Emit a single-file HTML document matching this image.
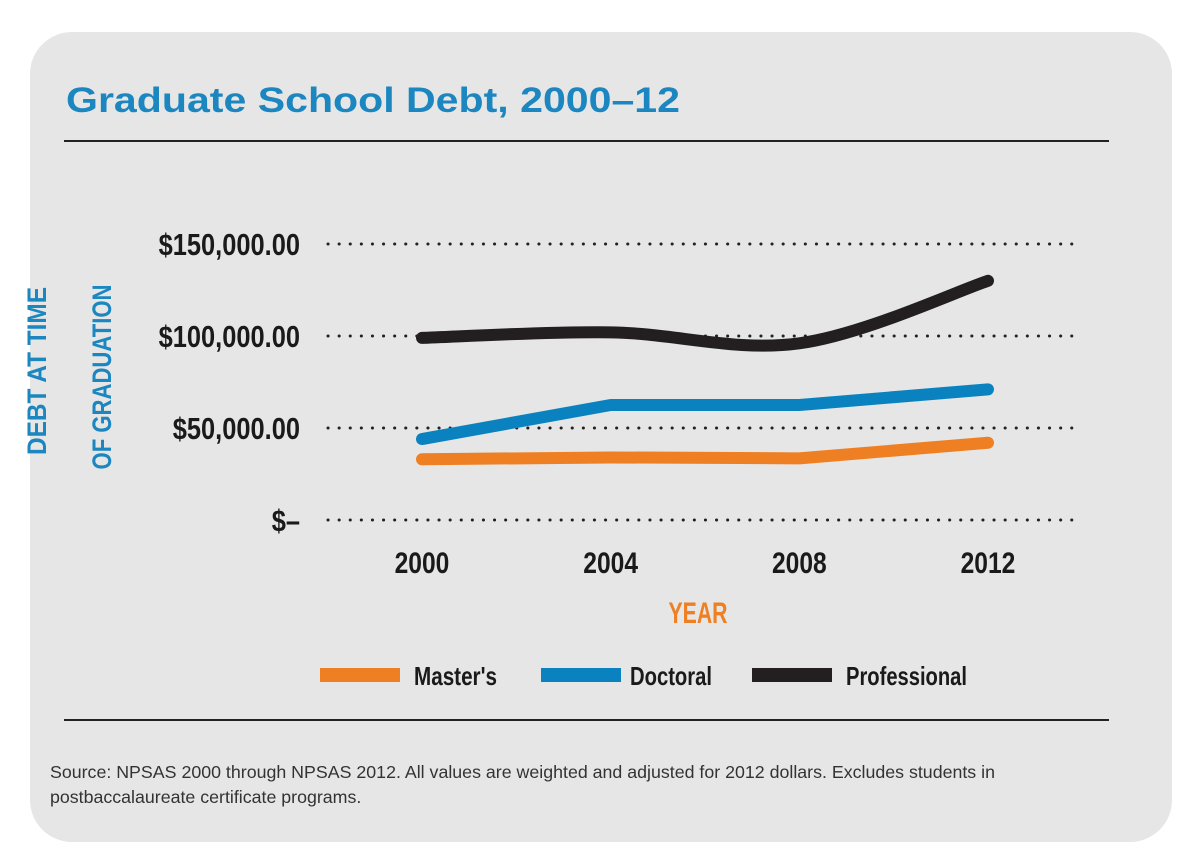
<!DOCTYPE html>
<html><head><meta charset="utf-8"><style>
html,body{margin:0;padding:0;background:#fff;width:1200px;height:868px;overflow:hidden}
.card{position:absolute;left:30px;top:32px;width:1142px;height:810px;background:#e6e6e6;border-radius:42px}
.rule{position:absolute;left:64px;width:1045px;height:1.5px;background:#222}
.src{position:absolute;left:50px;top:760px;width:1110px;font:17.8px/25px "Liberation Sans",sans-serif;color:#333}
svg{position:absolute;left:0;top:0}
.cond{font-family:"Liberation Sans Narrow","Liberation Sans",sans-serif;font-weight:bold}
</style></head><body>
<div class="card"></div>
<div class="rule" style="top:140px"></div>
<div class="rule" style="top:719px"></div>
<div class="src">Source: NPSAS 2000 through NPSAS 2012. All values are weighted and adjusted for 2012 dollars. Excludes students in<br>postbaccalaureate certificate programs.</div>
<svg id="chart" width="1200" height="868">
<text x="66" y="112" font-family="Liberation Sans, sans-serif" font-weight="bold" font-size="35" fill="#1b86bf" textLength="614" lengthAdjust="spacingAndGlyphs">Graduate School Debt, 2000–12</text>
</svg>
<script>
const years=[2000,2004,2008,2012];
const yTicks=[0,50000,100000,150000];
const yTickLabels=["$–","$50,000.00","$100,000.00","$150,000.00"];
const masters=[33000,34000,33500,42000];
const doctoral=[44000,62500,62500,71000];
const professional=[99000,102000,96000,130000];
const seriesNames=["Master's","Doctoral","Professional"];
const svg=document.getElementById('chart');
const NS='http://www.w3.org/2000/svg';
function x(v){return 422+(v-2000)*(988-422)/12;}
function y(v){return 520-v*92/50000;}
function mk(t,a){const e=document.createElementNS(NS,t);for(const k in a)e.setAttribute(k,a[k]);svg.appendChild(e);return e;}
function fit(el){const w=el.getComputedTextLength();const target=w*0.82;el.setAttribute('textLength',target);el.setAttribute('lengthAdjust','spacingAndGlyphs');}
yTicks.forEach((t,i)=>{
 const g=mk('line',{x1:328,x2:1075,y1:y(t),y2:y(t),stroke:'#222','stroke-width':3,'stroke-dasharray':'0.1 11','stroke-linecap':'round'});
 
 
 const l=mk('text',{x:300,y:y(t)+11,'text-anchor':'end','font-size':31,fill:'#1a1a1a',class:'cond'});
 l.textContent=yTickLabels[i];
 
 
 fit(l);
});
years.forEach(v=>{
 const l=mk('text',{x:x(v),y:573,'text-anchor':'middle','font-size':30,fill:'#1a1a1a',class:'cond'});
 l.textContent=v;
 
 
 fit(l);
});
function smooth(pts){let d='M'+pts[0][0]+','+pts[0][1];for(let i=0;i<pts.length-1;i++){const p0=pts[i-1]||pts[i],p1=pts[i],p2=pts[i+1],p3=pts[i+2]||p2;const t=0.17;d+=' C'+(p1[0]+(p2[0]-p0[0])*t)+','+(p1[1]+(p2[1]-p0[1])*t)+' '+(p2[0]-(p3[0]-p1[0])*t)+','+(p2[1]-(p3[1]-p1[1])*t)+' '+p2[0]+','+p2[1];}return d;}
function line(vals,color,name,curve){const pts=vals.map((v,i)=>[x(years[i]),y(v)]);const d=curve?smooth(pts):'M'+pts.map(p=>p.join(',')).join(' L');const p=mk('path',{d:d,fill:'none',stroke:color,'stroke-width':12,'stroke-linecap':'round','stroke-linejoin':'round'});
 
 }
line(masters,'#ee7f22','masters-line',false);
line(doctoral,'#0b82c0','doctoral-line',false);
line(professional,'#231f20','professional-line',true);
const ya1=mk('text',{transform:'translate(46,371) rotate(-90)','text-anchor':'middle','font-size':27,fill:'#1b86bf',class:'cond',textLength:168,lengthAdjust:'spacingAndGlyphs'});
ya1.textContent='DEBT AT TIME';


const ya2=mk('text',{transform:'translate(111,377) rotate(-90)','text-anchor':'middle','font-size':27,fill:'#1b86bf',class:'cond',textLength:185,lengthAdjust:'spacingAndGlyphs'});
ya2.textContent='OF GRADUATION';


const xa=mk('text',{x:698,y:623,'text-anchor':'middle','font-size':30,fill:'#ee7f22',class:'cond',textLength:59,lengthAdjust:'spacingAndGlyphs'});
xa.textContent='YEAR';


const lg=[[320,414,'#ee7f22',83],[541,630,'#0b82c0',82],[752,846,'#231f20',121]];
lg.forEach((L,i)=>{
 const r=mk('rect',{x:L[0],y:668,width:80,height:14,fill:L[2]});
 
 
 const t=mk('text',{x:L[1],y:685,'font-size':26,fill:'#1a1a1a',class:'cond','font-weight':'normal',textLength:L[3],lengthAdjust:'spacingAndGlyphs'});
 t.textContent=seriesNames[i];
 
 
});
</script>
</body></html>
